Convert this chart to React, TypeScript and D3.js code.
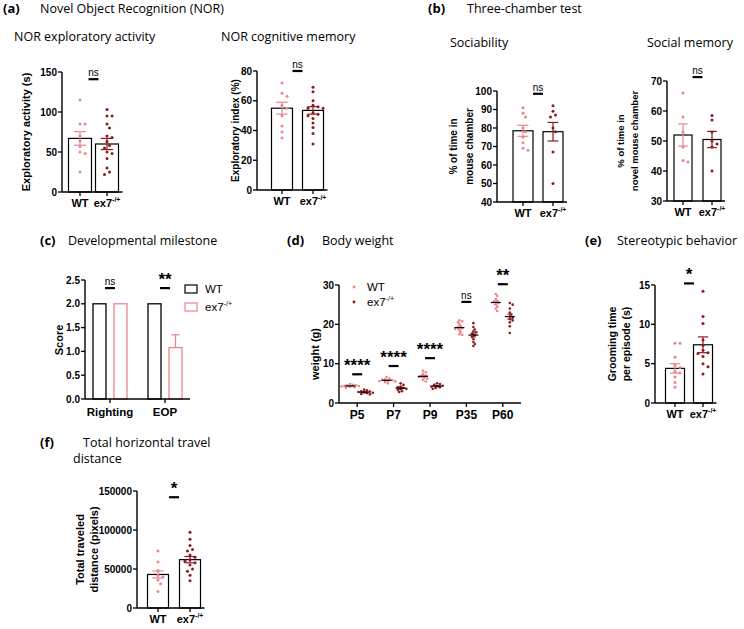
import React from 'react';
import * as d3 from 'd3';

const WT_COLOR = '#e8878c';
const KO_COLOR = '#8c1b1f';
const TITLE_FONT = "'Open Sans', 'Noto Sans', sans-serif";
const AXIS_FONT = "'Liberation Sans', Arial, sans-serif";

const groups = ['WT', 'ex7'];

// (a) NOR exploratory activity (s)
const norActivityWT = [115, 85, 85, 70, 64, 57, 50, 48, 25];
const norActivityKO = [103, 95, 95, 85, 80, 70, 68, 63, 58, 55, 50, 48, 42, 30, 25, 22];
const norActivityMean = [67, 60];
const norActivitySem = [8.5, 7];

// (a) NOR exploratory index (%)
const norIndexWT = [72, 65, 63, 57, 55, 50, 43, 39, 35];
const norIndexKO = [69, 66, 60, 57, 56, 55, 55, 52, 51, 50, 48, 45, 42, 38, 31];
const norIndexMean = [55, 53.5];
const norIndexSem = [4, 2.5];

// (b) sociability (% time in mouse chamber)
const socWT = [91, 88, 86, 80, 78, 75, 72, 69, 68];
const socKO = [92, 89, 87, 86, 80, 78, 67, 50];
const socMean = [78.5, 78];
const socSem = [3, 5];

// (b) social memory (% time in novel mouse chamber)
const memWT = [66, 58, 53, 48, 43.5, 43];
const memKO = [58.5, 57, 53, 50, 49, 48, 40];
const memMean = [52, 50.5];
const memSem = [3.7, 2.7];

// (c) developmental milestone score
const milestones = ['Righting', 'EOP'];
const milestoneWT = [2, 2];
const milestoneKO = [2, 1.08];
const milestoneKOSem = [0, 0.27];
const milestoneSig = ['ns', '**'];

// (d) body weight (g)
const ages = ['P5', 'P7', 'P9', 'P35', 'P60'];
const weightWT = [
  [4.8, 4.6, 4.5, 4.5, 4.4, 4.3, 4.2, 4.1, 4.0, 3.9],
  [6.6, 6.2, 6.0, 5.9, 5.8, 5.7, 5.6, 5.5, 5.3, 5.0],
  [8.2, 7.8, 7.4, 7.0, 6.8, 6.6, 6.4, 6.2, 5.9, 5.5],
  [21, 20.8, 20.5, 20, 19.5, 19.2, 19, 18.8, 18.5, 18, 17.5, 17.3],
  [27.7, 27.2, 26.5, 26, 25.8, 25.5, 25, 24.5, 24, 23.4],
];
const weightKO = [
  [3.4, 3.2, 3.0, 2.9, 2.8, 2.7, 2.6, 2.5, 2.3, 2.2],
  [5.0, 4.6, 4.2, 4.0, 3.8, 3.6, 3.5, 3.3, 3.0, 2.8],
  [5.0, 4.8, 4.6, 4.4, 4.3, 4.2, 4.0, 3.8, 3.6],
  [20.3, 19.3, 18.7, 18.2, 18, 17.6, 17.2, 16.8, 16.2, 15.5, 15, 14.5],
  [25.4, 25, 24, 23, 22.5, 22, 21.7, 21.3, 21, 20.5, 19.5, 17.8],
];
const weightSig = ['****', '****', '****', 'ns', '**'];
const weightSigAt = [7.3, 9.4, 11.4, 25.7, 30.2];

// (e) grooming time per episode (s)
const groomWT = [7.6, 7.6, 5.8, 4.8, 4.5, 4.0, 3.8, 3.3, 2.6, 2.0];
const groomKO = [14.2, 11.0, 10.1, 8.0, 7.3, 6.7, 6.4, 6.3, 5.9, 5.0, 4.6, 3.7];
const groomMean = [4.4, 7.4];
const groomSem = [0.6, 1.0];

// (f) total traveled distance (pixels)
const travelWT = [73000, 59000, 48000, 42000, 40000, 36000, 31000, 21000];
const travelKO = [97000, 88000, 80000, 75000, 73000, 68000, 65000, 62000, 60000, 58000, 55000, 50000, 47000, 42000, 35000];
const travelMean = [43000, 62000];
const travelSem = [4500, 4000];

// simple beeswarm: horizontal offsets so dots don't overlap
function swarm(vals: number[], y: (v: number) => number, d: number) {
  const placed: { x: number; y: number }[] = [];
  const out: number[] = new Array(vals.length).fill(0);
  const order = vals.map((_, i) => i).sort((a, b) => vals[b] - vals[a]);
  order.forEach(i => {
    const py = y(vals[i]);
    for (let k = 0; k < 30; k++) {
      const off = k === 0 ? 0 : (k % 2 ? 1 : -1) * Math.ceil(k / 2) * d * 0.6;
      if (placed.every(q => Math.hypot(q.x - off, q.y - py) >= d)) {
        placed.push({ x: off, y: py });
        out[i] = off;
        break;
      }
    }
  });
  return out;
}

const Ex7 = ({ size }: { size: number }) => (
  <>
    ex7<tspan dy={-size * 0.45} fontSize={size * 0.62}>-/+</tspan>
  </>
);

const Sig = ({ x, y, text }: { x: number; y: number; text: string }) => {
  const star = text.includes('*');
  return (
    <g>
      <line x1={x - 5} x2={x + 5} y1={y} y2={y} stroke="#000" strokeWidth={2.2} />
      <text x={x} y={star ? y + 6 : y - 3} textAnchor="middle" fontFamily={AXIS_FONT}
        fontSize={star ? 17 : 10} fontWeight={star ? 'bold' : 'normal'}
        dy={star ? -9 : 0}>{text}</text>
    </g>
  );
};

interface BarDotCfg {
  axisX: number; top: number; bottom: number;
  domain: [number, number]; ticks: number[];
  c1: number; c2: number; bw: number;
  means: number[]; sems: number[]; points: number[][];
  sig: string; sigAt: number;
  yLabel: string[]; yLabelX: number[]; yLabelSize: number;
  labelSize?: number;
}

const BarDot = ({ cfg }: { cfg: BarDotCfg }) => {
  const y = d3.scaleLinear().domain(cfg.domain).range([cfg.bottom, cfg.top]);
  const x = d3.scalePoint<string>().domain(groups).range([cfg.c1, cfg.c2]);
  const colors = [WT_COLOR, KO_COLOR];
  const xEnd = cfg.c2 + cfg.bw / 2 + 4;
  const midY = (cfg.top + cfg.bottom) / 2;
  const ls = cfg.labelSize ?? 11;
  return (
    <g>
      {groups.map((g, i) => {
        const cx = x(g)!;
        const offs = swarm(cfg.points[i], y, 4.2);
        const m = cfg.means[i], s = cfg.sems[i];
        return (
          <g key={g}>
            <rect x={cx - cfg.bw / 2} y={y(m)} width={cfg.bw} height={y(cfg.domain[0]) - y(m)}
              fill="#fff" stroke="#000" strokeWidth={1.2} />
            <line x1={cx} x2={cx} y1={y(m - s)} y2={y(m + s)} stroke={colors[i]} strokeWidth={1.2} />
            {[m - s, m + s].map((v, k) => (
              <line key={k} x1={cx - cfg.bw * 0.27} x2={cx + cfg.bw * 0.27} y1={y(v)} y2={y(v)}
                stroke={colors[i]} strokeWidth={1.2} />
            ))}
            {cfg.points[i].map((v, k) => (
              <circle key={k} cx={cx + offs[k]} cy={y(v)} r={1.5} fill={colors[i]} />
            ))}
            <line x1={cx} x2={cx} y1={cfg.bottom} y2={cfg.bottom + 4} stroke="#000" strokeWidth={1.3} />
            <text x={cx} y={cfg.bottom + 15} textAnchor="middle" fontFamily={AXIS_FONT}
              fontWeight="bold" fontSize={ls}>{g === 'WT' ? 'WT' : <Ex7 size={ls} />}</text>
          </g>
        );
      })}
      <line x1={cfg.axisX} x2={cfg.axisX} y1={cfg.top} y2={cfg.bottom} stroke="#000" strokeWidth={1.4} />
      <line x1={cfg.axisX} x2={xEnd} y1={cfg.bottom} y2={cfg.bottom} stroke="#000" strokeWidth={1.4} />
      {cfg.ticks.map(t => (
        <g key={t}>
          <line x1={cfg.axisX - 4} x2={cfg.axisX} y1={y(t)} y2={y(t)} stroke="#000" strokeWidth={1.3} />
          <text x={cfg.axisX - 5} y={y(t) + 3.5} textAnchor="end" fontFamily={AXIS_FONT}
            fontWeight="bold" fontSize={10}>{t}</text>
        </g>
      ))}
      <Sig x={(cfg.c1 + cfg.c2) / 2} y={y(cfg.sigAt)} text={cfg.sig} />
      {cfg.yLabel.map((l, k) => (
        <text key={k} transform={`translate(${cfg.yLabelX[k]},${midY}) rotate(-90)`} textAnchor="middle"
          fontFamily={AXIS_FONT} fontWeight="bold" fontSize={cfg.yLabelSize}>{l}</text>
      ))}
    </g>
  );
};

const MilestonePanel = () => {
  const y = d3.scaleLinear().domain([0, 2.5]).range([399, 280]);
  const x = d3.scalePoint<string>().domain(milestones).range([110, 165]);
  const inner = d3.scalePoint<string>().domain(groups).range([-10.5, 10.5]);
  const bw = 13;
  return (
    <g>
      {milestones.map((m, i) => {
        const cx = x(m)!;
        const kx = cx + inner('ex7')!;
        return (
          <g key={m}>
            <rect x={cx + inner('WT')! - bw / 2} y={y(milestoneWT[i])} width={bw}
              height={y(0) - y(milestoneWT[i])} fill="#fff" stroke="#000" strokeWidth={1.3} />
            {milestoneKOSem[i] > 0 && (
              <g stroke={WT_COLOR} strokeWidth={1.3}>
                <line x1={kx} x2={kx} y1={y(milestoneKO[i])} y2={y(milestoneKO[i] + milestoneKOSem[i])} />
                <line x1={kx - 4} x2={kx + 4} y1={y(milestoneKO[i] + milestoneKOSem[i])}
                  y2={y(milestoneKO[i] + milestoneKOSem[i])} />
              </g>
            )}
            <rect x={kx - bw / 2} y={y(milestoneKO[i])} width={bw}
              height={y(0) - y(milestoneKO[i])} fill="#fff" stroke={WT_COLOR} strokeWidth={1.3} />
            <line x1={cx} x2={cx} y1={399} y2={403} stroke="#000" strokeWidth={1.3} />
            <text x={cx} y={416} textAnchor="middle" fontFamily={AXIS_FONT} fontWeight="bold"
              fontSize={11.5}>{m}</text>
            <Sig x={cx} y={y(2.33)} text={milestoneSig[i]} />
          </g>
        );
      })}
      <line x1={85} x2={85} y1={280} y2={399} stroke="#000" strokeWidth={1.4} />
      <line x1={85} x2={190} y1={399} y2={399} stroke="#000" strokeWidth={1.4} />
      {y.ticks(5).map(t => (
        <g key={t}>
          <line x1={81} x2={85} y1={y(t)} y2={y(t)} stroke="#000" strokeWidth={1.3} />
          <text x={80} y={y(t) + 3.5} textAnchor="end" fontFamily={AXIS_FONT} fontWeight="bold"
            fontSize={10}>{d3.format('.1f')(t)}</text>
        </g>
      ))}
      <text transform="translate(63,340) rotate(-90)" textAnchor="middle" fontFamily={AXIS_FONT}
        fontWeight="bold" fontSize={11}>Score</text>
      <rect x={185} y={285} width={12} height={8} fill="#fff" stroke="#000" strokeWidth={1.2} />
      <rect x={185} y={303} width={12} height={8} fill="#fff" stroke={WT_COLOR} strokeWidth={1.2} />
      <text x={205} y={293} fontFamily={AXIS_FONT} fontSize={11.5}>WT</text>
      <text x={205} y={311} fontFamily={AXIS_FONT} fontSize={11.5}><Ex7 size={11.5} /></text>
    </g>
  );
};

const WeightPanel = () => {
  const y = d3.scaleLinear().domain([0, 30]).range([403, 285]);
  const x = d3.scaleBand<string>().domain(ages).range([339, 521]);
  const colors = [WT_COLOR, KO_COLOR];
  return (
    <g>
      {ages.map((a, i) => {
        const cx = x(a)! + x.bandwidth() / 2;
        return (
          <g key={a}>
            {[weightWT[i], weightKO[i]].map((vals, gi) => {
              const gx = cx + (gi === 0 ? -7 : 7);
              const offs = swarm(vals, y, 2.4);
              const m = d3.mean(vals)!;
              const s = d3.deviation(vals)! / Math.sqrt(vals.length);
              return (
                <g key={gi}>
                  {vals.map((v, k) => (
                    <circle key={k} cx={gx + offs[k]} cy={y(v)} r={1.3} fill={colors[gi]} />
                  ))}
                  <line x1={gx} x2={gx} y1={y(m - s)} y2={y(m + s)} stroke={colors[gi]} strokeWidth={1} />
                  {[m - s, m + s].map((v, k) => (
                    <line key={k} x1={gx - 2.5} x2={gx + 2.5} y1={y(v)} y2={y(v)} stroke={colors[gi]} strokeWidth={1} />
                  ))}
                  <line x1={gx - 5} x2={gx + 5} y1={y(m)} y2={y(m)} stroke="#000" strokeWidth={1.2} />
                </g>
              );
            })}
            <line x1={cx} x2={cx} y1={403} y2={407} stroke="#000" strokeWidth={1.3} />
            <text x={cx} y={419} textAnchor="middle" fontFamily={AXIS_FONT} fontWeight="bold"
              fontSize={12}>{a}</text>
            <Sig x={cx} y={y(weightSigAt[i])} text={weightSig[i]} />
          </g>
        );
      })}
      <line x1={339} x2={339} y1={285} y2={403} stroke="#000" strokeWidth={1.4} />
      <line x1={339} x2={521} y1={403} y2={403} stroke="#000" strokeWidth={1.4} />
      {y.ticks(3).map(t => (
        <g key={t}>
          <line x1={335} x2={339} y1={y(t)} y2={y(t)} stroke="#000" strokeWidth={1.3} />
          <text x={334} y={y(t) + 3.5} textAnchor="end" fontFamily={AXIS_FONT} fontWeight="bold"
            fontSize={10}>{t}</text>
        </g>
      ))}
      <text transform="translate(319,354) rotate(-90)" textAnchor="middle" fontFamily={AXIS_FONT}
        fontWeight="bold" fontSize={11}>weight (g)</text>
      <circle cx={354} cy={287} r={1.4} fill={WT_COLOR} />
      <circle cx={354} cy={302} r={1.4} fill={KO_COLOR} />
      <text x={367} y={291} fontFamily={AXIS_FONT} fontSize={11.5}>WT</text>
      <text x={367} y={306} fontFamily={AXIS_FONT} fontSize={11.5}><Ex7 size={11.5} /></text>
    </g>
  );
};

const Title = ({ x, y, letter, lx, text }: { x: number; y: number; letter?: string; lx?: number; text: string }) => (
  <g fontFamily={TITLE_FONT} fontSize={12.5}>
    {letter && <text x={lx} y={y} fontWeight="bold" fontSize={13}>{letter}</text>}
    <text x={x} y={y}>{text}</text>
  </g>
);

const panels: BarDotCfg[] = [
  {
    axisX: 62, top: 72, bottom: 192, domain: [0, 150], ticks: [0, 50, 100, 150],
    c1: 80, c2: 107, bw: 23, means: norActivityMean, sems: norActivitySem,
    points: [norActivityWT, norActivityKO], sig: 'ns', sigAt: 141,
    yLabel: ['Exploratory activity (s)'], yLabelX: [30], yLabelSize: 11,
  },
  {
    axisX: 257, top: 71, bottom: 190, domain: [0, 80], ticks: [0, 20, 40, 60, 80],
    c1: 282, c2: 313, bw: 21, means: norIndexMean, sems: norIndexSem,
    points: [norIndexWT, norIndexKO], sig: 'ns', sigAt: 80,
    yLabel: ['Exploratory index (%)'], yLabelX: [239], yLabelSize: 10,
  },
  {
    axisX: 497, top: 91, bottom: 202, domain: [40, 100], ticks: [40, 50, 60, 70, 80, 90, 100],
    c1: 523, c2: 553, bw: 20, means: socMean, sems: socSem,
    points: [socWT, socKO], sig: 'ns', sigAt: 98.5,
    yLabel: ['% of time in', 'mouse chamber'], yLabelX: [457, 473], yLabelSize: 10,
  },
  {
    axisX: 667, top: 81, bottom: 201, domain: [30, 70], ticks: [30, 40, 50, 60, 70],
    c1: 683, c2: 712, bw: 18, means: memMean, sems: memSem,
    points: [memWT, memKO], sig: 'ns', sigAt: 71.3,
    yLabel: ['% of time in', 'novel mouse chamber'], yLabelX: [624, 638], yLabelSize: 9.5,
  },
  {
    axisX: 655, top: 285, bottom: 403, domain: [0, 15], ticks: [0, 5, 10, 15],
    c1: 675, c2: 703, bw: 19, means: groomMean, sems: groomSem,
    points: [groomWT, groomKO], sig: '*', sigAt: 15.2,
    yLabel: ['Grooming time', 'per episode (s)'], yLabelX: [616, 630], yLabelSize: 10.5,
  },
  {
    axisX: 137, top: 491, bottom: 608, domain: [0, 150000], ticks: [0, 50000, 100000, 150000],
    c1: 158, c2: 190, bw: 21, means: travelMean, sems: travelSem,
    points: [travelWT, travelKO], sig: '*', sigAt: 142000,
    yLabel: ['Total traveled', 'distance (pixels)'], yLabelX: [84, 98], yLabelSize: 11,
  },
];

export default function App() {
  return (
    <svg width={744} height={629} style={{ position: 'absolute', left: 0, top: 0, background: '#fff' }}>
      <rect width={744} height={629} fill="#fff" />
      <Title letter="(a)" lx={3} x={40} y={13} text="Novel Object Recognition (NOR)" />
      <Title x={14} y={41} text="NOR exploratory activity" />
      <Title x={221} y={41} text="NOR cognitive memory" />
      <Title letter="(b)" lx={428} x={467} y={13} text="Three-chamber test" />
      <Title x={450} y={47} text="Sociability" />
      <Title x={647} y={47} text="Social memory" />
      <Title letter="(c)" lx={40} x={68} y={245} text="Developmental milestone" />
      <Title letter="(d)" lx={287} x={322} y={245} text="Body weight" />
      <Title letter="(e)" lx={585} x={617} y={245} text="Stereotypic behavior" />
      <Title letter="(f)" lx={40} x={83} y={447} text="Total horizontal travel" />
      <Title x={73} y={463} text="distance" />
      {panels.map((p, i) => <BarDot key={i} cfg={p} />)}
      <MilestonePanel />
      <WeightPanel />
    </svg>
  );
}
